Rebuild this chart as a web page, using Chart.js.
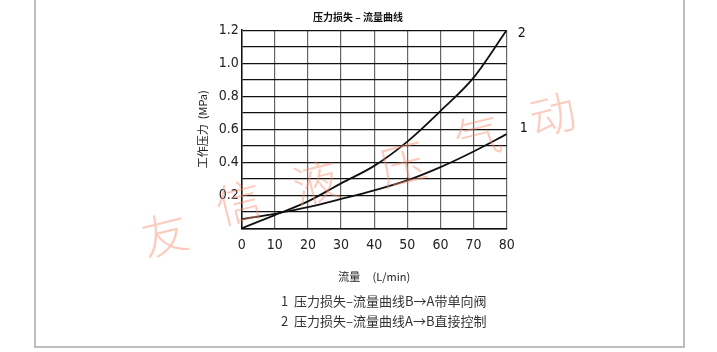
<!DOCTYPE html>
<html lang="zh">
<head>
<meta charset="UTF-8">
<title>压力损失－流量曲线</title>
<script src="https://cdn.jsdelivr.net/npm/chart.js"></script>
<style>
  body { margin: 0; background: #fff; }
  .page { position: relative; width: 717px; height: 352px; overflow: hidden; }
  .frame { position: absolute; left: 34px; top: -4px; width: 651px; height: 352px;
           border: 2px solid #bdbdbd; box-sizing: border-box; }
  #chart { position: absolute; left: 0; top: 0; }
  .notes { position: absolute; left: 281px; top: 291px; font: 13px "Noto Sans CJK SC", sans-serif;
           color: #333; line-height: 20px; white-space: nowrap; }
  .wm span { position: absolute; font: 300 46px "Noto Sans CJK SC", sans-serif;
             color: rgba(247, 140, 110, 0.45); transform: translate(-50%, -50%) rotate(-14deg); }
</style>
</head>
<body>
<div class="page">
  <div class="frame"></div>
  <canvas id="chart" width="717" height="352"></canvas>
  <div class="notes">
    <div>1&nbsp; 压力损失–流量曲线B→A带单向阀</div>
    <div>2&nbsp; 压力损失–流量曲线A→B直接控制</div>
  </div>
  <div class="wm">
    <span style="left:164px; top:232px">友</span>
    <span style="left:238px; top:200px">信</span>
    <span style="left:315px; top:180px">液</span>
    <span style="left:402px; top:162px">压</span>
    <span style="left:477px; top:134px">气</span>
    <span style="left:552px; top:112px">动</span>
  </div>
</div>
<script>
// flow (L/min) and pressure loss (MPa)
const flow = [0, 10, 20, 30, 40, 50, 60, 70, 80];
const lossBtoA = [0.055, 0.088, 0.128, 0.178, 0.23, 0.29, 0.37, 0.465, 0.57];   // curve 1
const lossAtoB = [0, 0.08, 0.163, 0.272, 0.378, 0.525, 0.71, 0.912, 1.2];      // curve 2
const seriesTags = ['1', '2'];
const yTickLabels = ['0.2', '0.4', '0.6', '0.8', '1.0', '1.2'];

// the drawing uses a narrow face for the numbers
const narrow = '"Liberation Sans Narrow", "DejaVu Sans", sans-serif';
const numFont = { family: narrow, size: 14, weight: 'condensed' };

// little "1" / "2" next to the end of each curve
const tagOffsets = [[13, -6], [11, 3]];
const endTags = {
  id: 'endTags',
  afterDatasetsDraw(chart) {
    const ctx = chart.ctx;
    ctx.save();
    ctx.font = 'condensed 14px ' + narrow;
    ctx.fillStyle = '#111';
    ctx.textBaseline = 'middle';
    chart.data.datasets.forEach((ds, i) => {
      const pts = chart.getDatasetMeta(i).data;
      const last = pts[pts.length - 1];
      ctx.fillText(seriesTags[i], last.x + tagOffsets[i][0], last.y + tagOffsets[i][1]);
    });
    ctx.restore();
  }
};

new Chart(document.getElementById('chart'), {
  type: 'line',
  data: {
    datasets: [
      { label: seriesTags[0], data: flow.map((f, i) => ({ x: f, y: lossBtoA[i] })) },
      { label: seriesTags[1], data: flow.map((f, i) => ({ x: f, y: lossAtoB[i] })) }
    ]
  },
  options: {
    responsive: false,
    animation: false,
    layout: { padding: { left: 209.3, right: 210.3, top: 0, bottom: 63.7 } },
    elements: {
      point: { radius: 0 },
      line: { borderColor: '#111', borderWidth: 1.8, cubicInterpolationMode: 'monotone' }
    },
    plugins: {
      legend: { display: false },
      tooltip: { enabled: false },
      title: {
        display: true,
        text: '压力损失 – 流量曲线',
        color: '#111',
        font: { family: '"Noto Sans CJK SC", sans-serif', size: 10, weight: 'bold' },
        padding: { top: 11, bottom: 7.1 }
      }
    },
    scales: {
      x: {
        type: 'linear',
        min: flow[0],
        max: flow[flow.length - 1],
        afterFit: s => { s.height = 60; },
        ticks: { stepSize: 10, padding: 9, color: '#222', font: numFont, autoSkip: false, maxRotation: 0 },
        grid: { color: '#666', lineWidth: 1.2, drawTicks: false },
        border: { color: '#111', width: 1.5 },
        title: {
          display: true,
          text: '流量     (L/min)',
          color: '#222',
          font: { family: '"Noto Sans CJK SC", sans-serif', size: 11 },
          padding: { top: 0, bottom: 5 }
        }
      },
      y: {
        min: 0,
        max: 1.2,
        afterFit: s => { s.width = 32.4; },
        ticks: {
          stepSize: 0.1,
          autoSkip: false,
          padding: 3,
          color: '#222',
          font: numFont,
          callback: v => yTickLabels.includes(v.toFixed(1)) ? v.toFixed(1) : ''
        },
        grid: { color: '#111', lineWidth: 1.2, drawTicks: false },
        border: { color: '#111', width: 1.5 },
        title: {
          display: true,
          text: '工作压力  (MPa)',
          color: '#222',
          font: { family: '"Noto Sans CJK SC", sans-serif', size: 11 },
          padding: { top: -13, bottom: 0 }
        }
      }
    }
  },
  plugins: [endTags]
});
</script>
</body>
</html>
